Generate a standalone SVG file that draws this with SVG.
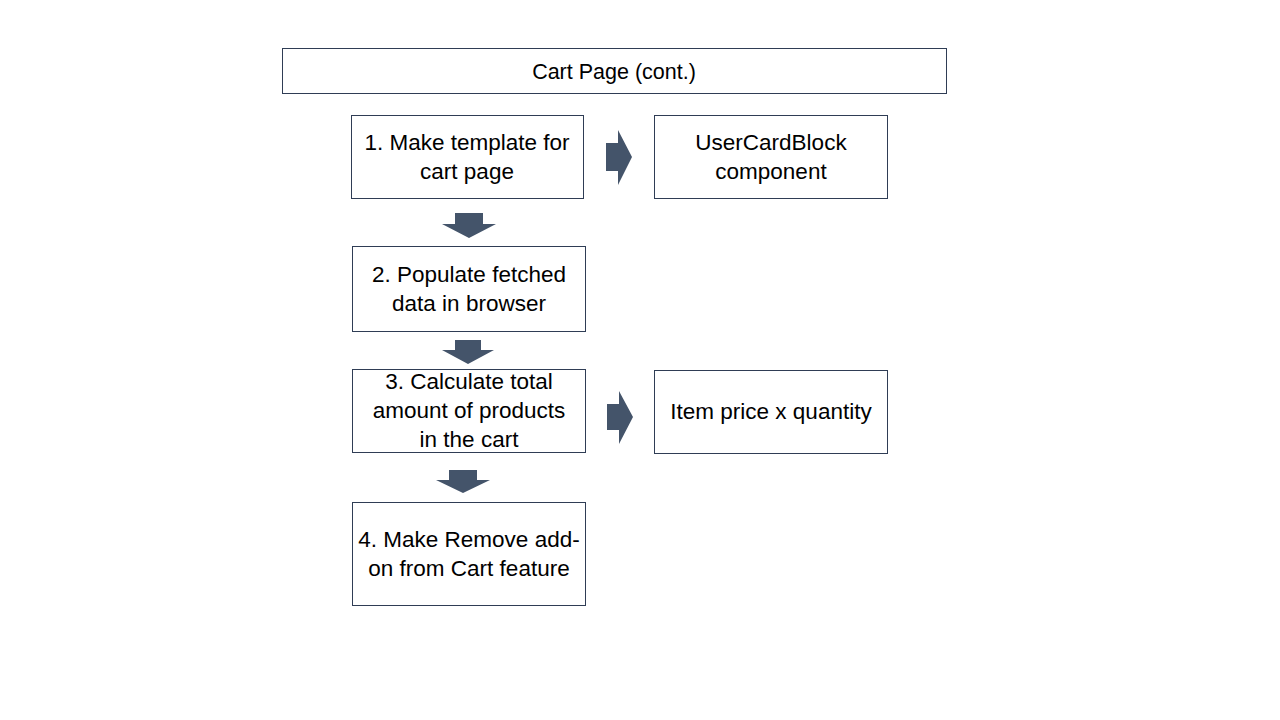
<svg xmlns="http://www.w3.org/2000/svg" width="1280" height="720" viewBox="0 0 1280 720">
<style>
.box{fill:#fff;stroke:#2f3d55;stroke-width:1}
.t{font-family:"Liberation Sans",Arial,sans-serif;font-size:22.5px;fill:#000;text-anchor:middle}
.tt{font-size:21.5px}
.ar{fill:#44546a}
</style>
<rect width="1280" height="720" fill="#fff"/>
<g id="title"><rect class="box" x="282.5" y="48.5" width="664" height="45"/><text class="t tt" x="614" y="79">Cart Page (cont.)</text></g>
<g id="n1"><rect class="box" x="351.5" y="115.5" width="232" height="83"/><text class="t" x="467" y="150">1. Make template for</text><text class="t" x="467" y="179">cart page</text></g>
<g id="n1r"><rect class="box" x="654.5" y="115.5" width="233" height="83"/><text class="t" x="771" y="150">UserCardBlock</text><text class="t" x="771" y="179">component</text></g>
<g id="n2"><rect class="box" x="352.5" y="246.5" width="233" height="85"/><text class="t" x="469" y="282">2. Populate fetched</text><text class="t" x="469" y="311">data in browser</text></g>
<g id="n3"><rect class="box" x="352.5" y="369.5" width="233" height="83"/><text class="t" x="469" y="389">3. Calculate total</text><text class="t" x="469" y="418">amount of products</text><text class="t" x="469" y="447">in the cart</text></g>
<g id="n3r"><rect class="box" x="654.5" y="370.5" width="233" height="83"/><text class="t" x="771" y="419">Item price x quantity</text></g>
<g id="n4"><rect class="box" x="352.5" y="502.5" width="233" height="103"/><text class="t" x="469" y="547">4. Make Remove add-</text><text class="t" x="469" y="576">on from Cart feature</text></g>
<g id="connectors">
<polygon class="ar" points="606,143 618,143 618,130 632,157 618,185 618,171 606,171"/>
<polygon class="ar" points="607,404 619,404 619,391 633,417 619,444 619,430 607,430"/>
<polygon class="ar" points="455,213 483,213 483,224 496,224 469,238 442,224 455,224"/>
<polygon class="ar" points="455,340 481,340 481,350 494,350 468,364 442,350 455,350"/>
<polygon class="ar" points="449,470 477,470 477,480 490,480 463,493 436,480 449,480"/>
</g>
</svg>
